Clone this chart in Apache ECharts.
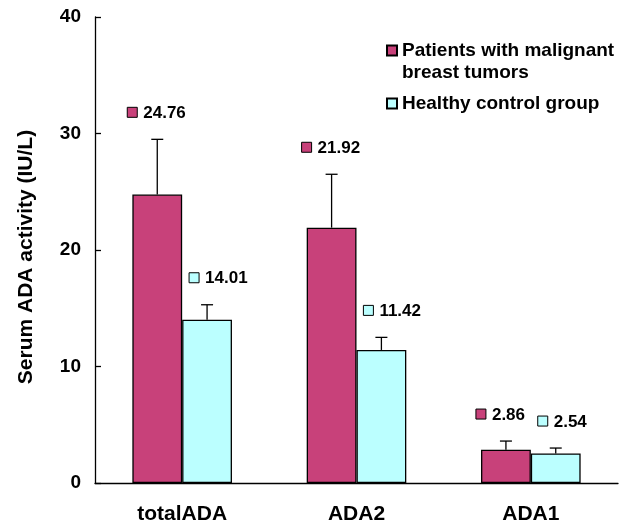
<!DOCTYPE html>
<html><head><meta charset="utf-8">
<script src="https://cdn.jsdelivr.net/npm/echarts@6/dist/echarts.min.js"></script>
<style>html,body{margin:0;padding:0;background:#fff}#c{width:626px;height:527px}</style>
</head><body><div id="c"></div>
<script>
var categories = ['totalADA', 'ADA2', 'ADA1'];
var patients = [24.76, 21.92, 2.86];
var patientsErr = [4.74, 4.58, 0.74];
var controls = [14.01, 11.42, 2.54];
var controlsErr = [1.29, 1.08, 0.46];
var yTicks = [0, 10, 20, 30, 40];
var seriesNames = ['Patients with malignant breast tumors', 'Healthy control group'];
var legendLines = ['Patients with malignant', 'breast tumors'];
var colors = ['#C8417A', '#BBFFFF'];
var FONT = '"Liberation Sans", Arial, sans-serif';

var chart = echarts.init(document.getElementById('c'));

function errSeries(idx, vals, errs, color) {
  return {
    type: 'custom',
    name: seriesNames[idx] + '_err',
    z: 5,
    data: vals.map(function (v, i) { return [i, v, errs[i]]; }),
    renderItem: function (params, api) {
      var ci = api.value(0);
      var base = api.coord([ci, api.value(1)]);
      var top = api.coord([ci, api.value(1) + api.value(2)]);
      var bw = api.size([1, 0])[0];
      var barW = bw * 0.2857;
      var x = base[0] + (idx === 0 ? -barW / 2 : barW / 2);
      var lx = x + (idx === 0 ? -30 : -18);
      var ly = top[1] - 27;
      return {
        type: 'group',
        children: [
          { type: 'line', shape: { x1: x, y1: base[1], x2: x, y2: top[1] }, style: { stroke: '#000', lineWidth: 1.3 } },
          { type: 'line', shape: { x1: x - 6, y1: top[1], x2: x + 6, y2: top[1] }, style: { stroke: '#000', lineWidth: 1.3 } },
          { type: 'rect', shape: { x: lx, y: ly - 5, width: 10, height: 10 }, style: { fill: color, stroke: '#000', lineWidth: 1 } },
          { type: 'text', x: lx + 16, y: ly + 1, style: { text: api.value(1).toFixed(2), fill: '#000', font: 'bold 17px ' + FONT, verticalAlign: 'middle', align: 'left' } }
        ]
      };
    }
  };
}

chart.setOption({
  animation: false,
  backgroundColor: '#fff',
  grid: { left: 95, right: 8, top: 17, bottom: 44 },
  legend: {
    orient: 'vertical', left: 381, top: 34,
    data: seriesNames,
    formatter: function (n) { return n === seriesNames[0] ? legendLines[0] : n; },
    icon: 'rect', itemWidth: 10, itemHeight: 10, itemGap: 30,
    textStyle: { fontFamily: FONT, fontWeight: 'bold', fontSize: 19, color: '#000', lineHeight: 23 }
  },
  graphic: [{
    type: 'text', left: 402, top: 63,
    style: { text: legendLines[1], fill: '#000', font: 'bold 19px ' + FONT }
  }],
  xAxis: {
    type: 'category', data: categories,
    axisLine: { lineStyle: { color: '#000', width: 1.3 } },
    axisTick: { show: false },
    axisLabel: { fontFamily: FONT, fontWeight: 'bold', fontSize: 21, color: '#000', margin: 21 }
  },
  yAxis: {
    type: 'value', min: yTicks[0], max: yTicks[yTicks.length - 1], interval: 10,
    name: 'Serum ADA activity (IU/L)', nameLocation: 'middle', nameGap: 58,
    nameTextStyle: { fontFamily: FONT, fontWeight: 'bold', fontSize: 21, color: '#000', padding: [0, 14, 0, 0] },
    axisLine: { show: true, lineStyle: { color: '#000', width: 1.3 } },
    axisTick: { show: true, inside: true, length: 6, lineStyle: { color: '#000', width: 1.3 } },
    splitLine: { show: false },
    axisLabel: { fontFamily: FONT, fontWeight: 'bold', fontSize: 19, color: '#000', margin: 14 }
  },
  series: [
    { type: 'bar', name: seriesNames[0], data: patients, barGap: '0%', barCategoryGap: '42.86%',
      itemStyle: { color: colors[0], borderColor: '#000', borderWidth: 1.3 } },
    { type: 'bar', name: seriesNames[1], data: controls,
      itemStyle: { color: colors[1], borderColor: '#000', borderWidth: 1.3 } },
    errSeries(0, patients, patientsErr, colors[0]),
    errSeries(1, controls, controlsErr, colors[1])
  ]
});
</script></body></html>
